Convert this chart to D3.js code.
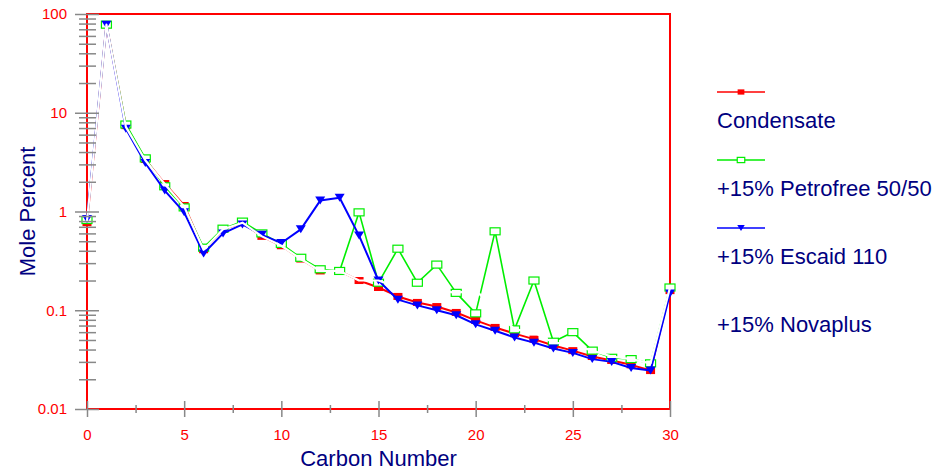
<!DOCTYPE html>
<html>
<head>
<meta charset="utf-8">
<script src="https://cdn.jsdelivr.net/npm/d3@7"></script>
<style>
  body { margin: 0; background: #fff; }
  text { font-family: "Liberation Sans", Arial, sans-serif; }
</style>
</head>
<body>
<svg width="937" height="472"></svg>
<script>
// carbon numbers along the x axis
const carbon = [0,1,2,3,4,5,6,7,8,9,10,11,12,13,14,15,16,17,18,19,20,21,22,23,24,25,26,27,28,29,30];

// mole percent
const condensate = [0.77,78,7.4,3.36,1.92,1.15,0.41,0.66,0.77,0.56,0.45,0.33,0.25,0.25,0.2,0.17,0.138,0.12,0.109,0.095,0.079,0.067,0.058,0.051,0.044,0.039,0.034,0.031,0.028,0.0245,0.158];
const petrofree = [0.82,78,7.6,3.45,1.8,1.1,0.43,0.67,0.79,0.6,0.47,0.34,0.26,0.25,0.98,0.19,0.42,0.19,0.29,0.15,0.093,0.63,0.064,0.2,0.048,0.06,0.039,0.033,0.032,0.029,0.17];
const escaid = [0.84,78,6.9,3.1,1.63,0.98,0.375,0.6,0.74,0.58,0.48,0.66,1.29,1.38,0.57,0.2,0.128,0.112,0.1,0.089,0.072,0.062,0.053,0.047,0.041,0.037,0.032,0.03,0.026,0.0245,0.148];
const novaplus = [0.8,78,7.2,3.3,1.9,1.12,0.41,0.66,0.77,0.56,0.45,0.33,0.25,0.25,0.2,0.2,0.17,0.16,0.16,0.15,0.16,0.1,0.064,0.06,0.047,0.045,0.039,0.034,0.032,0.029,0.17];

const seriesNames = ["Condensate", "+15% Petrofree 50/50", "+15% Escaid 110", "+15% Novaplus"];

const yMajor = [0.01, 0.1, 1, 10, 100];
const yMajorLabels = ["0.01", "0.1", "1", "10", "100"];
const xMajor = [0, 5, 10, 15, 20, 25, 30];
const xMinor = [2.5, 7.5, 12.5, 17.5, 22.5, 27.5];

window.onload = () => {
  const svg = d3.select("svg");
  const margin = { top: 14, right: 267, bottom: 63, left: 87 };
  const width = +svg.attr("width");
  const height = +svg.attr("height");
  const innerWidth = width - margin.left - margin.right;
  const innerHeight = height - margin.top - margin.bottom;

  const xScale = d3.scaleLinear().domain([0, 30]).range([0, innerWidth]);
  const yScale = d3.scaleLog().domain([0.01, 100]).range([innerHeight, 0]);

  const g = svg.append("g")
    .attr("transform", `translate(${margin.left},${margin.top})`);

  // red frame
  g.append("rect")
    .attr("width", innerWidth)
    .attr("height", innerHeight)
    .attr("fill", "none")
    .attr("stroke", "#ff0000")
    .attr("stroke-width", 2);

  // ---- series ----
  const series = [
    { name: seriesNames[0], values: condensate, color: "#ff0000", w: 2, marker: "fsq" },
    { name: seriesNames[1], values: petrofree, color: "#00ee00", w: 1.6, marker: "osq" },
    { name: seriesNames[2], values: escaid, color: "#0000ff", w: 2, marker: "tri" },
    { name: seriesNames[3], values: novaplus, color: "#ffffff", w: 2.2, marker: "none" }
  ];

  const line = d3.line()
    .x((d, i) => xScale(carbon[i]))
    .y(d => yScale(d));

  const drawMarker = (sel, type, color, big) => {
    const k = big ? 1 : 0.75;
    if (type === "fsq") {
      sel.append("rect")
        .attr("x", -4.5 * k).attr("y", -3.5 * k)
        .attr("width", 9 * k).attr("height", 7 * k)
        .attr("fill", color);
    } else if (type === "osq") {
      sel.append("rect")
        .attr("x", -5 * k).attr("y", -3.5 * k)
        .attr("width", 10 * k).attr("height", 7 * k)
        .attr("fill", "#fff")
        .attr("stroke", color)
        .attr("stroke-width", 1.2);
    } else if (type === "tri") {
      sel.append("path")
        .attr("d", `M${-5 * k},${-4 * k}L${5 * k},${-4 * k}L0,${4 * k}Z`)
        .attr("fill", color);
    }
  };

  series.forEach(s => {
    const sg = g.append("g");
    sg.append("path")
      .datum(s.values)
      .attr("d", line)
      .attr("fill", "none")
      .attr("stroke", s.color)
      .attr("stroke-width", s.w)
      .attr("stroke-linejoin", "round");
    if (s.marker !== "none") {
      sg.selectAll("g.pt")
        .data(s.values)
        .enter()
        .append("g")
        .attr("class", "pt")
        .attr("transform", (d, i) => `translate(${xScale(carbon[i])},${yScale(d)})`)
        .each(function () { drawMarker(d3.select(this), s.marker, s.color, true); });
    }
  });

  // ---- axes ----
  const yAxisG = g.append("g")
    .call(d3.axisLeft(yScale).tickValues(yMajor).tickFormat((d, i) => yMajorLabels[i]).tickSize(12).tickPadding(8));
  yAxisG.selectAll(".tick line").attr("x1", 12).attr("x2", -12);

  const yMinor = yScale.ticks().filter(v => !yMajor.includes(v));
  const yMinorG = g.append("g")
    .call(d3.axisLeft(yScale).tickValues(yMinor).tickFormat("").tickSize(8));
  yMinorG.selectAll(".tick line").attr("x1", 9).attr("x2", -8);

  const xAxisG = g.append("g")
    .attr("transform", `translate(0,${innerHeight})`)
    .call(d3.axisBottom(xScale).tickValues(xMajor).tickSize(8).tickPadding(12));
  xAxisG.selectAll(".tick line").attr("y1", -8).attr("y2", 8);

  const xMinorG = g.append("g")
    .attr("transform", `translate(0,${innerHeight})`)
    .call(d3.axisBottom(xScale).tickValues(xMinor).tickFormat("").tickSize(4));
  xMinorG.selectAll(".tick line").attr("y1", -4).attr("y2", 4);

  [yAxisG, yMinorG, xAxisG, xMinorG].forEach(a => {
    a.select(".domain").remove();
    a.selectAll(".tick line").attr("stroke", "#888").attr("stroke-width", 1.5);
    a.selectAll(".tick text")
      .attr("fill", "#ff0000")
      .style("font-size", "15px")
      .style("font-family", "'Liberation Sans', Arial, sans-serif");
  });

  // axis titles
  g.append("text")
    .attr("x", innerWidth / 2)
    .attr("y", innerHeight + 57)
    .attr("text-anchor", "middle")
    .attr("fill", "#000080")
    .style("font-size", "22px")
    .text("Carbon Number");

  g.append("text")
    .attr("transform", `translate(${-52},${innerHeight / 2}) rotate(-90)`)
    .attr("text-anchor", "middle")
    .attr("fill", "#000080")
    .style("font-size", "22px")
    .text("Mole Percent");

  // ---- legend ----
  const legend = svg.append("g").attr("transform", "translate(717,92)");
  series.forEach((s, i) => {
    const lg = legend.append("g").attr("transform", `translate(0,${i * 68})`);
    lg.append("line")
      .attr("x1", 0).attr("x2", 48)
      .attr("stroke", s.color)
      .attr("stroke-width", 1.5);
    const mg = lg.append("g").attr("transform", "translate(24,0)");
    drawMarker(mg, s.marker, s.color, false);
    lg.append("text")
      .attr("x", 0)
      .attr("y", 36)
      .attr("fill", "#000080")
      .style("font-size", "22px")
      .text(s.name);
  });
};
</script>
</body>
</html>
